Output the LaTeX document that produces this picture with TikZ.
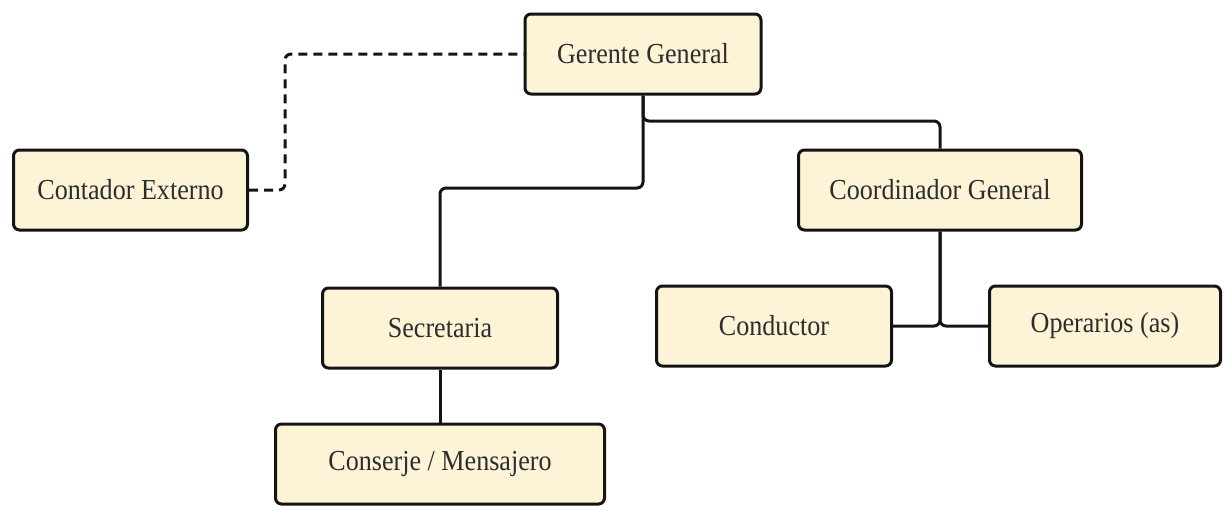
\documentclass[tikz,border=0pt]{standalone}
\usepackage{fontspec}
\setmainfont{Liberation Serif}[FakeStretch=0.9]
\definecolor{boxfill}{RGB}{253,243,214}
\definecolor{edge}{RGB}{20,20,20}
\definecolor{txt}{RGB}{45,45,45}
\begin{document}
\begin{tikzpicture}[x=1pt,y=-1pt,
  orgbox/.style={draw=edge,fill=boxfill,line width=3pt,rounded corners=6pt,
    inner sep=0pt,minimum height=80pt,text=txt,
    font=\fontsize{29}{32}\selectfont},
  link/.style={draw=edge,line width=3pt,rounded corners=6pt},
  dlink/.style={link,dash pattern=on 9pt off 6pt}]
\useasboundingbox (0,0) rectangle (1225,506);

\node[orgbox,minimum width=236pt] (gerente) at (643,54) {Gerente General};
\node[orgbox,minimum width=234pt] (contador) at (130.5,190) {Contador Externo};
\node[orgbox,minimum width=283pt] (coord) at (940,190) {Coordinador General};
\node[orgbox,minimum width=235pt] (conductor) at (774,326) {Conductor};
\node[orgbox,minimum width=231pt] (operarios) at (1105,326) {Operarios (as)};
\node[orgbox,minimum width=235pt] (secretaria) at (440,328) {Secretaria};
\node[orgbox,minimum width=329pt] (conserje) at (440,464) {Conserje / Mensajero};

\coordinate (dx) at (285,0);
\coordinate (hr) at (0,121);
\coordinate (hl) at (0,188);

\draw[dlink] (contador.east) -| (dx |- gerente.west) -- (gerente.west);
\draw[link] (gerente.south) |- (coord.north |- hr) -- (coord.north);
\draw[link] (gerente.south) |- (secretaria.north |- hl) -- (secretaria.north);
\draw[link] (coord.south) |- (conductor.east);
\draw[link] (coord.south) |- (operarios.west);
\draw[link] (secretaria.south) -- (conserje.north);
\end{tikzpicture}
\end{document}
